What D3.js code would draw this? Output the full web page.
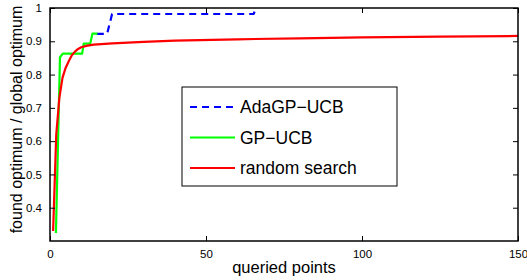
<!DOCTYPE html>
<html>
<head>
<meta charset="utf-8">
<script src="https://cdn.jsdelivr.net/npm/d3@7"></script>
<style>
  body { margin: 0; background: #fff; }
  text { font-family: "Liberation Sans", Arial, sans-serif; }
</style>
</head>
<body>
<div id="chart"></div>
<script>
// series values: [queried points, found / global optimum]
var adaGP = [[15, 0.922], [18.3, 0.922], [19.9, 0.982], [65.3, 0.982], [66, 1.0]];
var gpUCB = [[1.9, 0.324], [3.2, 0.852], [4.1, 0.863], [10.3, 0.863], [10.8, 0.893],
             [12.9, 0.893], [13.6, 0.923], [15.2, 0.923]];
var randomSearch = [[1, 0.33], [2, 0.62], [3, 0.73], [4, 0.79], [5, 0.82], [6, 0.84],
                    [7, 0.858], [8, 0.869], [9, 0.877], [10, 0.882], [12, 0.887],
                    [14, 0.89], [20, 0.894], [30, 0.898], [40, 0.902], [60, 0.906],
                    [80, 0.909], [100, 0.912], [125, 0.914], [150, 0.916]];
var seriesNames = ["AdaGP\u2212UCB", "GP\u2212UCB", "random search"];
var xTicks = [0, 50, 100, 150];
var yTicks = [0.4, 0.5, 0.6, 0.7, 0.8, 0.9, 1];

var margin = { top: 8, right: 9, bottom: 39, left: 50 },
    width = 527 - margin.left - margin.right,
    height = 280 - margin.top - margin.bottom;

var svg = d3.select("#chart")
    .append("svg")
    .attr("width", 527)
    .attr("height", 280)
    .append("g")
    .attr("transform", "translate(" + margin.left + "," + margin.top + ")");

var x = d3.scaleLinear().domain([0, 150]).range([0, width]);
var y = d3.scaleLinear().domain([0.3, 1]).range([height, 0]);

svg.append("clipPath").attr("id", "clip")
    .append("rect").attr("width", width).attr("height", height);

// lines
var line = d3.line()
    .x(function (d) { return x(d[0]); })
    .y(function (d) { return y(d[1]); });

var series = [
    { data: adaGP, color: "#0000ff", dash: "7,5" },
    { data: gpUCB, color: "#00ff00", dash: null },
    { data: randomSearch, color: "#ff0000", dash: null }
];

series.forEach(function (s) {
    svg.append("path")
        .datum(s.data)
        .attr("clip-path", "url(#clip)")
        .attr("fill", "none")
        .attr("stroke", s.color)
        .attr("stroke-width", 2.2)
        .attr("stroke-linejoin", "round")
        .attr("stroke-dasharray", s.dash)
        .attr("d", line);
});

// axes, ticks pointing inward like matlab
function styleAxis(g) {
    g.select(".domain").remove();
    g.selectAll("line").attr("stroke", "#000");
    g.selectAll("text")
        .attr("fill", "#000")
        .style("font-size", "11.5px");
}

svg.append("g")
    .attr("transform", "translate(0," + height + ")")
    .call(d3.axisBottom(x).tickValues(xTicks).tickSizeInner(-5).tickPadding(9))
    .call(styleAxis);

svg.append("g")
    .call(d3.axisTop(x).tickValues(xTicks).tickSizeInner(-5).tickFormat(""))
    .call(styleAxis);

svg.append("g")
    .call(d3.axisLeft(y).tickValues(yTicks).tickSizeInner(-5).tickPadding(8)
        .tickFormat(function (d) { return d3.format("")(d); }))
    .call(styleAxis);

svg.append("g")
    .attr("transform", "translate(" + width + ",0)")
    .call(d3.axisRight(y).tickValues(yTicks).tickSizeInner(-5).tickFormat(""))
    .call(styleAxis);

svg.append("rect")
    .attr("width", width)
    .attr("height", height)
    .attr("fill", "none")
    .attr("stroke", "#000")
    .attr("stroke-width", 1.5);

// axis labels
svg.append("text")
    .attr("text-anchor", "middle")
    .attr("x", width / 2)
    .attr("y", height + 32)
    .style("font-size", "16.5px")
    .text("queried points");

svg.append("text")
    .attr("text-anchor", "middle")
    .attr("transform", "rotate(-90)")
    .attr("x", -height / 2 + 5)
    .attr("y", -28)
    .style("font-size", "16px")
    .text("found optimum / global optimum");

// legend
var legend = svg.append("g")
    .attr("transform", "translate(" + (182 - margin.left) + "," + (87 - margin.top) + ")");

legend.append("rect")
    .attr("width", 215)
    .attr("height", 99)
    .attr("fill", "#fff")
    .attr("stroke", "#000")
    .attr("stroke-width", 1);

series.forEach(function (s, i) {
    var ly = 20 + i * 30.5;
    legend.append("line")
        .attr("x1", 8).attr("x2", 53)
        .attr("y1", ly).attr("y2", ly)
        .attr("stroke", s.color)
        .attr("stroke-width", 2.2)
        .attr("stroke-dasharray", s.dash);
    legend.append("text")
        .attr("x", 58)
        .attr("y", ly + 6)
        .style("font-size", "17.5px")
        .text(seriesNames[i]);
});
</script>
</body>
</html>
